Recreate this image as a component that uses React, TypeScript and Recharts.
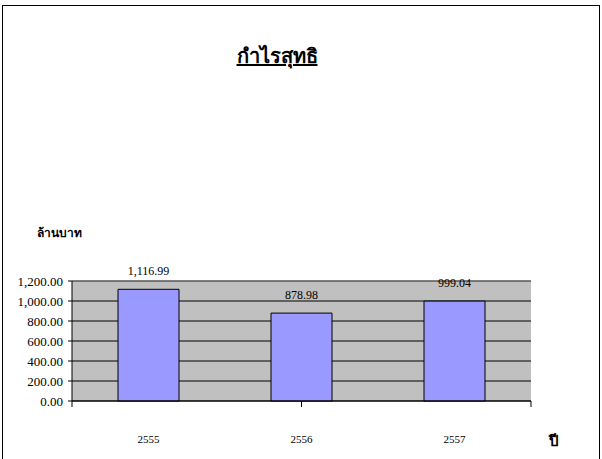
import { Bar, BarChart, CartesianGrid, LabelList, ReferenceLine, XAxis, YAxis } from "recharts";

const years = ["2555", "2556", "2557"];
const profits = [1116.99, 878.98, 999.04];
const yTicks = [0, 200, 400, 600, 800, 1000, 1200];
const edgeTicks = [0, 1, 2, 3];

const data = years.map((year, i) => ({ year, profit: profits[i] }));

const money = (v: number) =>
  Number(v).toLocaleString("en-US", { minimumFractionDigits: 2, maximumFractionDigits: 2 });

const serif = "'Liberation Serif', 'Times New Roman', serif";

export default function App() {
  return (
    <div style={{ position: "absolute", left: 0, top: 0, width: 602, height: 459, background: "#fff", fontFamily: serif }}>
      <div
        style={{
          position: "absolute",
          left: 2,
          top: 5,
          width: 598,
          height: 470,
          border: "1px solid #000",
          boxSizing: "border-box",
        }}
      />
      <div
        style={{
          position: "absolute",
          left: 0,
          width: 554,
          top: 40,
          textAlign: "center",
          fontSize: 20,
          fontWeight: "bold",
          textDecoration: "underline",
        }}
      >
        กำไรสุทธิ
      </div>
      <div style={{ position: "absolute", left: 37, top: 223, fontSize: 12, fontWeight: "bold" }}>ล้านบาท</div>
      <div style={{ position: "absolute", left: 549, top: 429, fontSize: 15, fontWeight: "bold" }}>ปี</div>
      <BarChart
        width={602}
        height={459}
        data={data}
        margin={{ top: 281, right: 71, bottom: 10, left: 2 }}
        style={{ position: "absolute", left: 0, top: 0 }}
      >
        <CartesianGrid xAxisId="a" vertical={false} stroke="#000" fill="#c0c0c0" fillOpacity={1} />
        <XAxis
          xAxisId="a"
          type="number"
          domain={[0, 3]}
          ticks={edgeTicks}
          interval={0}
          allowDataOverflow
          tickFormatter={() => ""}
          tick={{ fontSize: 1 }}
          tickSize={6}
          height={6}
          stroke="#000"
        />
        <XAxis
          xAxisId="b"
          dataKey="year"
          axisLine={false}
          tickLine={false}
          height={42}
          tick={{ fill: "#000", fontSize: 11, fontFamily: serif, dy: 20 }}
        />
        <YAxis
          domain={[0, 1200]}
          ticks={yTicks}
          interval={0}
          width={70}
          tickSize={4}
          tickMargin={5}
          stroke="#000"
          tickFormatter={money}
          tick={{ fill: "#000", fontSize: 13, fontFamily: serif }}
        />
        <Bar
          xAxisId="b"
          dataKey="profit"
          fill="#9999ff"
          stroke="#000"
          strokeWidth={1}
          barSize={61}
          isAnimationActive={false}
        >
          <LabelList
            dataKey="profit"
            position="top"
            offset={14}
            formatter={(v: any) => money(v)}
            style={{ fill: "#000", fontSize: 12, fontFamily: serif }}
          />
        </Bar>
        <ReferenceLine y={1200} xAxisId="a" stroke="#808080" strokeWidth={1} />
        <ReferenceLine x={3} xAxisId="a" stroke="#808080" strokeWidth={1} />
      </BarChart>
    </div>
  );
}
